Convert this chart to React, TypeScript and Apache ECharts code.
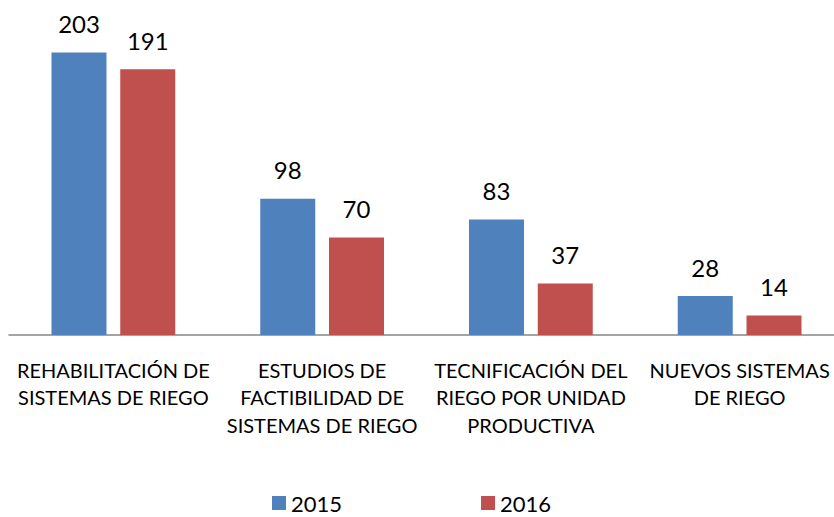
import React, { useEffect, useRef } from "react";
import * as echarts from "echarts";

const categories = [
  "REHABILITACIÓN DE\nSISTEMAS DE RIEGO",
  "ESTUDIOS DE\nFACTIBILIDAD DE\nSISTEMAS DE RIEGO",
  "TECNIFICACIÓN DEL\nRIEGO POR UNIDAD\nPRODUCTIVA",
  "NUEVOS SISTEMAS\nDE RIEGO",
];
const series2015 = [203, 98, 83, 28];
const series2016 = [191, 70, 37, 14];
const seriesNames = ["2015", "2016"];
const colors = ["#4F81BD", "#C0504D"];

const FONT = "Lato, 'Open Sans', sans-serif";

export default function App() {
  const ref = useRef<HTMLDivElement>(null);
  useEffect(() => {
    document.body.style.margin = "0";
    if (!ref.current) return;
    const chart = echarts.init(ref.current, null, { renderer: "svg" });
    const labelCfg = {
      show: true,
      position: "top",
      distance: 17,
      color: "#000",
      fontSize: 24,
      fontFamily: FONT,
    };
    chart.setOption({
      animation: false,
      backgroundColor: "#fff",
      textStyle: { fontFamily: FONT },
      color: colors,
      grid: {
        left: 9,
        right: -10,
        top: 22,
        bottom: 182,
        containLabel: false,
        outerBoundsMode: "none",
      },
      legend: {
        data: seriesNames,
        left: 267,
        top: 487,
        icon: "rect",
        itemWidth: 14,
        itemHeight: 14,
        itemGap: 139,
        textStyle: { fontSize: 22, color: "#000", fontFamily: FONT },
        itemStyle: { borderWidth: 0 },
      },
      xAxis: {
        type: "category",
        data: categories,
        axisLine: { show: true, lineStyle: { color: "#868686", width: 1.5 } },
        axisTick: { show: false },
        axisLabel: {
          interval: 0,
          margin: 21,
          fontSize: 20,
          lineHeight: 27.5,
          color: "#000",
          fontFamily: FONT,
          align: "center",
        },
      },
      yAxis: {
        type: "value",
        min: 0,
        max: 225,
        show: false,
        splitLine: { show: false },
      },
      series: [
        {
          name: seriesNames[0],
          type: "bar",
          data: series2015,
          barWidth: 55,
          barGap: "25%",
          label: labelCfg,
          itemStyle: { color: colors[0] },
        },
        {
          name: seriesNames[1],
          type: "bar",
          data: series2016,
          barWidth: 55,
          barGap: "25%",
          label: labelCfg,
          itemStyle: { color: colors[1] },
        },
      ],
    });
    return () => chart.dispose();
  }, []);
  return (
    <div
      ref={ref}
      style={{ position: "absolute", left: 0, top: 0, width: 834, height: 517 }}
    />
  );
}
